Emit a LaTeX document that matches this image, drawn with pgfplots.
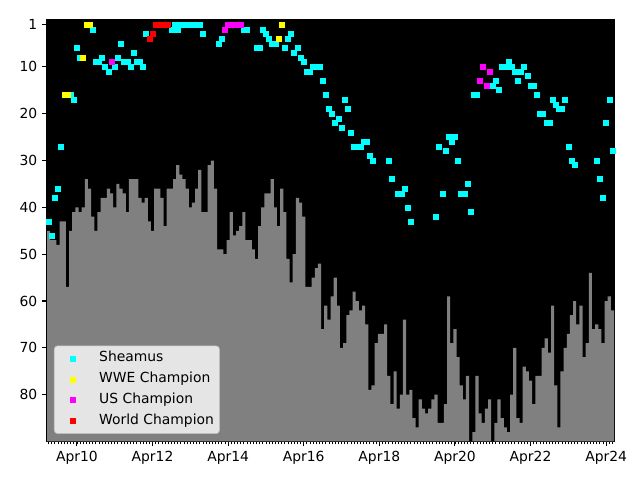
\documentclass[border=0pt]{standalone}
\usepackage{pgfplots}
\pgfplotsset{compat=1.18}
\usepackage{pgfplotstable}
\usepgfplotslibrary{fillbetween}
\usepackage{fontspec}
\setmainfont{DejaVu Sans}
\definecolor{mcyan}{rgb}{0,1,1}
\definecolor{myellow}{rgb}{1,1,0}
\definecolor{mmagenta}{rgb}{1,0,1}
\definecolor{mred}{rgb}{1,0,0}
\definecolor{barcol}{rgb}{0.5,0.5,0.5}
\definecolor{legfill}{rgb}{0.9,0.9,0.9}
\definecolor{legdraw}{rgb}{0.74,0.74,0.74}

\pgfplotstableread{
i v
0 45
1 47
2 47
3 48
4 43
5 43
6 57
7 45
8 41
9 40
10 41
11 40
12 34
13 36
14 42
15 45
16 41
17 38
18 38
19 36
20 37
21 40
22 35
23 36
24 37
25 41
26 34
27 34
28 34
29 38
30 39
31 38
32 43
33 45
34 36
35 36
36 38
37 44
38 36
39 36
40 34
41 31
42 33
43 34
44 36
45 40
46 39
47 36
48 32
49 41
50 41
51 31
52 30
53 36
54 49
55 49
56 50
57 47
58 41
59 46
60 45
61 44
62 41
63 47
64 47
65 49
66 51
67 44
68 40
69 37
70 37
71 34
72 40
73 44
74 36
75 41
76 51
77 56
78 50
79 38
80 39
81 42
82 57
83 57
84 55
85 53
86 52
87 66
88 61
89 64
90 59
91 55
92 61
93 70
94 69
95 63
96 62
97 58
98 60
99 62
100 61
101 65
102 79
103 78
104 69
105 67
106 67
107 65
108 76
109 82
110 75
111 83
112 80
113 64
114 80
115 79
116 85
117 87
118 81
119 83
120 84
121 83
122 81
123 80
124 86
125 86
126 82
127 59
128 69
129 66
130 72
131 78
132 81
133 76
134 90
135 88
136 76
137 84
138 86
139 83
140 81
141 90
142 86
143 81
144 85
145 87
146 88
147 80
148 70
149 85
150 86
151 74
152 75
153 77
154 82
155 76
156 76
157 70
158 68
159 71
160 61
161 78
162 87
163 75
164 70
165 67
166 63
167 60
168 65
169 61
170 72
171 69
172 54
173 66
174 65
175 66
176 69
177 60
178 59
179 62
180 62
}\bars

\pgfplotstableread{
i v
0 43
1 46
2 38
3 36
4 27
7 16
8 17
9 6
10 8
14 2
15 9
16 9
17 8
18 10
19 11
21 10
22 8
23 5
24 9
25 9
26 10
27 7
28 9
29 9
30 10
31 3
39 2
40 1
41 2
42 1
43 1
44 1
45 1
46 1
47 1
48 1
49 3
54 5
55 4
62 2
63 2
66 6
67 6
68 2
69 3
70 4
71 5
72 5
75 6
76 4
77 3
78 7
79 6
80 8
81 9
82 11
83 11
84 10
85 10
86 10
87 13
88 16
89 19
90 20
91 22
92 21
93 23
94 17
95 19
96 24
97 27
98 27
99 27
100 26
101 26
102 29
103 30
108 30
109 34
111 37
112 37
113 36
114 40
115 43
123 42
124 27
125 37
126 28
127 25
128 26
129 25
130 30
131 37
132 37
133 35
134 41
135 16
136 16
141 14
142 13
143 15
144 10
145 10
146 9
147 10
148 11
149 13
150 11
151 10
152 12
153 14
154 14
155 16
156 20
157 20
158 22
159 22
160 17
161 18
162 19
163 19
164 17
165 27
166 30
167 31
174 30
175 34
176 38
177 22
178 17
179 28
}\sheamus

\pgfplotstableread{
i v
5 16
6 16
11 8
12 1
13 1
73 4
74 1
}\wwe

\pgfplotstableread{
i v
20 9
56 2
57 1
58 1
59 1
60 1
61 1
137 13
138 10
139 14
140 11
}\us

\pgfplotstableread{
i v
32 4
33 3
34 1
35 1
36 1
37 1
38 1
}\world

\begin{document}
\begin{tikzpicture}
\path (0,0) rectangle (460.8pt,345.6pt);
\begin{axis}[
  at={(33.84pt,27.72pt)}, anchor=south west,
  width=408.24pt, height=303.48pt, scale only axis,
  xmin=-0.5, xmax=179.5, ymin=0, ymax=90, y dir=reverse,
  axis background/.style={fill=black},
  xtick={9,33,57,81,105,129,153,177},
  xticklabels={Apr10,Apr12,Apr14,Apr16,Apr18,Apr20,Apr22,Apr24},
  minor xtick={0,...,179},
  ytick={1,10,20,30,40,50,60,70,80},
  xtick pos=bottom, ytick pos=left, tick align=outside,
  major tick length=3.5pt, minor tick length=2pt,
  major tick style={line width=0.8pt, black},
  minor tick style={line width=0.6pt, black},
  tick label style={font=\fontsize{10}{12}\selectfont},
  /pgf/number format/assume math mode=true,
  axis line style={line width=0.8pt},
  legend cell align=left,
  legend style={at={(0,0)}, anchor=south west, xshift=5pt, yshift=5.4pt,
    fill=legfill, draw=legdraw, rounded corners=2.5pt,
    font=\fontsize{10}{12}\selectfont,
    row sep=3.1pt, column sep=7.4pt, inner xsep=3pt, inner ysep=3pt,
    nodes={inner sep=1pt, text height=7.5pt, text depth=2.5pt}},
  legend image code/.code={\path[draw=none,fill=none] (0pt,0pt) -- (21pt,0pt); \draw[#1] plot coordinates {(10.7pt,0pt)};},
]
\addplot[name path=top, draw=none, const plot mark left, forget plot]
  table[x expr=\thisrow{i}-0.5, y=v] {\bars};
\addplot[name path=base, draw=none, forget plot] coordinates {(-0.5,90) (179.5,90)};
\addplot[fill=barcol, draw=none, forget plot] fill between[of=top and base];

\addplot[only marks, mark=square*, mark size=1.8pt, color=mcyan] table[x=i,y=v] {\sheamus};
\addlegendentry{Sheamus}
\addplot[only marks, mark=square*, mark size=1.8pt, color=myellow] table[x=i,y=v] {\wwe};
\addlegendentry{WWE Champion}
\addplot[only marks, mark=square*, mark size=1.8pt, color=mmagenta] table[x=i,y=v] {\us};
\addlegendentry{US Champion}
\addplot[only marks, mark=square*, mark size=1.8pt, color=mred] table[x=i,y=v] {\world};
\addlegendentry{World Champion}
\end{axis}
\end{tikzpicture}
\end{document}
